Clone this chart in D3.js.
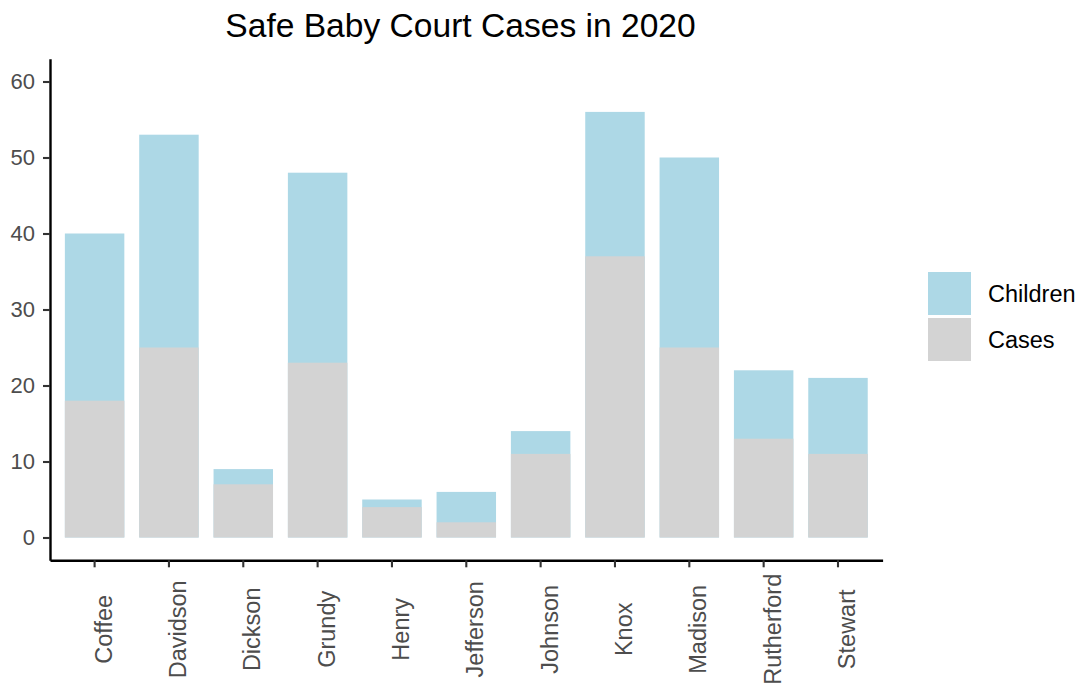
<!DOCTYPE html>
<html>
<head>
<meta charset="utf-8">
<script src="https://cdn.jsdelivr.net/npm/d3@7"></script>
<style>
  body { margin: 0; background: #fff; }
  svg { display: block; font-family: "Liberation Sans", Arial, Helvetica, sans-serif; }
</style>
</head>
<body>
<svg></svg>
<script>
// county data
const counties = ["Coffee", "Davidson", "Dickson", "Grundy", "Henry", "Jefferson",
    "Johnson", "Knox", "Madison", "Rutherford", "Stewart"];
const children = [40, 53, 9, 48, 5, 6, 14, 56, 50, 22, 21];
const cases = [18, 25, 7, 23, 4, 2, 11, 37, 25, 13, 11];
const yTicks = [0, 10, 20, 30, 40, 50, 60];
const seriesNames = ["Children", "Cases"];
const seriesColors = ["#ADD8E6", "#D3D3D3"];

const width = 1080, height = 685;
const plotLeft = 50, plotRight = 882.6, plotTop = 58.7, plotBottom = 560.3;

const svg = d3.select('svg')
    .attr('width', width)
    .attr('height', height);

// scales
const xScale = d3.scaleBand()
    .domain(counties)
    .range([plotLeft, plotRight])
    .padding(0.2);

const yScale = d3.scaleLinear()
    .domain([-3, 63])
    .range([plotBottom, plotTop]);

// bars: children behind, cases in front
svg.append('g')
    .selectAll('rect')
    .data(counties)
    .enter()
    .append('rect')
    .attr('x', (d) => xScale(d))
    .attr('width', xScale.bandwidth())
    .attr('y', (d, i) => yScale(children[i]))
    .attr('height', (d, i) => yScale(0) - yScale(children[i]))
    .attr('fill', seriesColors[0]);

svg.append('g')
    .selectAll('rect')
    .data(counties)
    .enter()
    .append('rect')
    .attr('x', (d) => xScale(d))
    .attr('width', xScale.bandwidth())
    .attr('y', (d, i) => yScale(cases[i]))
    .attr('height', (d, i) => yScale(0) - yScale(cases[i]))
    .attr('fill', seriesColors[1]);

// y axis
const yAxis = svg.append('g')
    .attr('transform', `translate(${plotLeft}, 0)`)
    .call(d3.axisLeft(yScale).tickValues(yTicks).tickSize(7).tickSizeOuter(0).tickPadding(8));

// x axis
const xAxis = svg.append('g')
    .attr('transform', `translate(0, ${plotBottom})`)
    .call(d3.axisBottom(xScale).tickSize(7).tickSizeOuter(0));

[yAxis, xAxis].forEach((ax) => {
    ax.select('.domain').attr('stroke', '#000').attr('stroke-width', 2.4);
    ax.selectAll('.tick line').attr('stroke', '#333').attr('stroke-width', 2.1);
});

yAxis.selectAll('.tick text')
    .attr('font-size', 22)
    .attr('fill', '#4D4D4D');

xAxis.selectAll('.tick text')
    .attr('font-size', 23.5)
    .attr('fill', '#4D4D4D')
    .attr('transform', 'rotate(-90)')
    .attr('x', -69)
    .attr('y', 17)
    .attr('dy', null)
    .attr('text-anchor', 'middle');

svg.selectAll('.tick text').attr('font-family', null);
svg.selectAll('g').filter(function () { return this.hasAttribute('font-family'); })
    .attr('font-family', null).attr('font-size', null);

// title
svg.append('text')
    .attr('x', 460.5)
    .attr('y', 36.5)
    .attr('text-anchor', 'middle')
    .attr('font-size', 33.6)
    .attr('fill', '#000')
    .text('Safe Baby Court Cases in 2020');

// legend
const legend = svg.append('g')
    .attr('transform', 'translate(928, 272)');

legend.selectAll('rect')
    .data(seriesNames)
    .enter()
    .append('rect')
    .attr('x', 0)
    .attr('y', (d, i) => i * 46)
    .attr('width', 43)
    .attr('height', 43)
    .attr('fill', (d, i) => seriesColors[i]);

legend.selectAll('text')
    .data(seriesNames)
    .enter()
    .append('text')
    .attr('x', 60)
    .attr('y', (d, i) => i * 46 + 21.5)
    .attr('dy', '0.35em')
    .attr('font-size', 23.5)
    .attr('fill', '#000')
    .text((d) => d);
</script>
</body>
</html>
